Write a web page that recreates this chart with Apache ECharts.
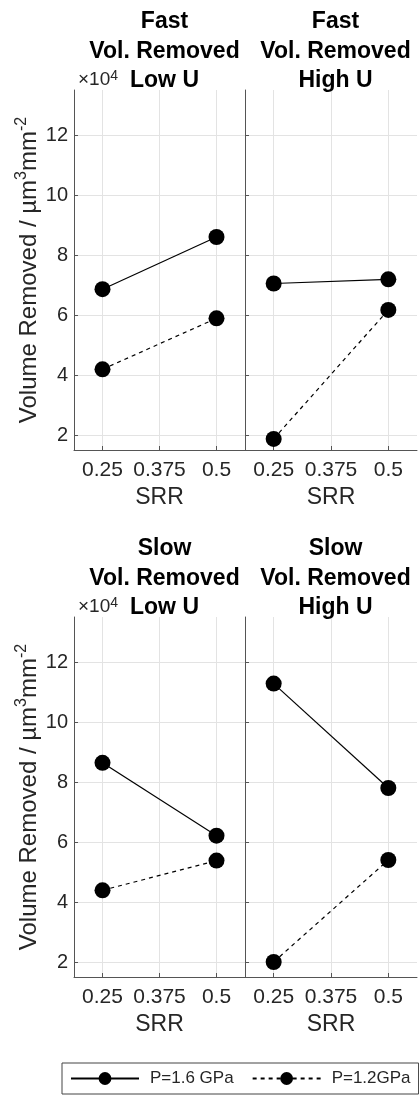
<!DOCTYPE html>
<html>
<head>
<meta charset="utf-8">
<script src="https://cdn.jsdelivr.net/npm/echarts@6/dist/echarts.min.js"></script>
<style>
  html, body { margin: 0; padding: 0; background: #fff; }
  #chart { width: 419px; height: 1095px; }
</style>
</head>
<body>
<div id="chart"></div>
<script>
  // SRR values of the points and tick labels
  let srr = [0.25, 0.5];
  let xTicks = [0.25, 0.375, 0.5];
  let yTicks = [2, 4, 6, 8, 10, 12];

  // volume removed (x10^4)
  let fastLowU16 = [6.86, 8.6];
  let fastLowU12 = [4.19, 5.89];
  let fastHighU16 = [7.05, 7.19];
  let fastHighU12 = [1.87, 6.17];
  let slowLowU16 = [8.64, 6.21];
  let slowLowU12 = [4.39, 5.38];
  let slowHighU16 = [11.28, 7.8];
  let slowHighU12 = [2.0, 5.4];

  let panelTitles = [
    "Fast\nVol. Removed\nLow U",
    "Fast\nVol. Removed\nHigh U",
    "Slow\nVol. Removed\nLow U",
    "Slow\nVol. Removed\nHigh U"
  ];
  let seriesNames = ["P=1.6 GPa", "P=1.2GPa"];

  let font = "Liberation Sans, Arial, sans-serif";
  let textColor = "#262626";
  let axisColor = "#555";

  let grids = [
    { left: 74, top: 90, width: 171, height: 360 },
    { left: 245, top: 90, width: 172, height: 360 },
    { left: 74, top: 617, width: 171, height: 360 },
    { left: 245, top: 617, width: 172, height: 360 }
  ];

  function pairs(ys) {
    return srr.map((x, i) => [x, ys[i]]);
  }

  let panelData = [
    [fastLowU16, fastLowU12],
    [fastHighU16, fastHighU12],
    [slowLowU16, slowLowU12],
    [slowHighU16, slowHighU12]
  ];

  let xAxes = grids.map((g, i) => ({
    type: "value",
    gridIndex: i,
    min: 0.1875,
    max: 0.5625,
    name: "SRR",
    nameLocation: "middle",
    nameGap: 36,
    nameTextStyle: { fontFamily: font, fontSize: 23, color: textColor },
    axisLine: { show: true, lineStyle: { color: axisColor, width: 1 } },
    axisTick: { show: true, inside: true, length: 4, customValues: xTicks, lineStyle: { color: axisColor } },
    axisLabel: {
      customValues: xTicks,
      margin: 10,
      fontFamily: font,
      fontSize: 21,
      color: textColor,
      formatter: v => String(v)
    },
    splitLine: { show: true, lineStyle: { color: "#e3e3e3", width: 1 } }
  }));

  let yAxes = grids.map((g, i) => ({
    type: "value",
    gridIndex: i,
    min: 1.5,
    max: 13.5,
    name: i % 2 === 0 ? "Volume Removed / µm{sup|3}mm{sup|-2}" : "",
    nameLocation: "middle",
    nameGap: 29,
    nameTextStyle: {
      fontFamily: font,
      fontSize: 24,
      color: textColor,
      rich: {
        sup: { fontFamily: font, fontSize: 16, color: textColor, verticalAlign: "top", lineHeight: 31 }
      }
    },
    axisLine: { show: true, lineStyle: { color: axisColor, width: 1 } },
    axisTick: { show: true, inside: true, length: 4, customValues: yTicks, lineStyle: { color: axisColor } },
    axisLabel: {
      show: i % 2 === 0,
      customValues: yTicks,
      margin: 6,
      fontFamily: font,
      fontSize: 20,
      color: textColor
    },
    splitLine: { show: true, lineStyle: { color: "#e3e3e3", width: 1 } }
  }));

  let series = [];
  panelData.forEach((d, i) => {
    series.push({
      name: seriesNames[0],
      type: "line",
      xAxisIndex: i,
      yAxisIndex: i,
      data: pairs(d[0]),
      symbol: "circle",
      symbolSize: 16,
      itemStyle: { color: "#000" },
      lineStyle: { color: "#000", width: 1.2, type: "solid" },
      z: 3
    });
    series.push({
      name: seriesNames[1],
      type: "line",
      xAxisIndex: i,
      yAxisIndex: i,
      data: pairs(d[1]),
      symbol: "circle",
      symbolSize: 16,
      itemStyle: { color: "#000" },
      lineStyle: { color: "#000", width: 1.2, type: [4, 4] },
      z: 3
    });
  });

  let titles = grids.map((g, i) => ({
    text: panelTitles[i],
    left: 74 + (i % 2) * 171 + 85.5,
    top: i < 2 ? 2 : 529,
    textAlign: "center",
    textStyle: { fontFamily: font, fontSize: 23, fontWeight: "bold", color: "#000", lineHeight: 29.5 }
  }));
  // x10^4 multiplier above each left axis
  [0, 2].forEach(i => {
    titles.push({
      text: "×10{sup|4}",
      left: grids[i].left - 1,
      top: grids[i].top - 26,
      textStyle: {
        fontFamily: font,
        fontSize: 19,
        fontWeight: "normal",
        color: textColor,
        rich: {
          sup: { fontFamily: font, fontSize: 14, color: textColor, verticalAlign: "top", lineHeight: 22 }
        }
      }
    });
  });

  let option = {
    animation: false,
    backgroundColor: "#fff",
    title: titles,
    grid: grids,
    xAxis: xAxes,
    yAxis: yAxes,
    legend: {
      data: seriesNames,
      left: 62,
      top: 1063,
      width: 400,
      orient: "horizontal",
      itemWidth: 68,
      itemHeight: 16,
      itemGap: 18,
      padding: [7, 8, 7, 8],
      borderColor: "#444",
      borderWidth: 1,
      textStyle: { fontFamily: font, fontSize: 17, color: textColor, padding: [0, 0, 0, 6] }
    },
    series: series
  };

  let myChart = echarts.init(document.getElementById("chart"));
  myChart.setOption(option);
  window.addEventListener("resize", () => {
    myChart.resize();
  });
</script>
</body>
</html>
